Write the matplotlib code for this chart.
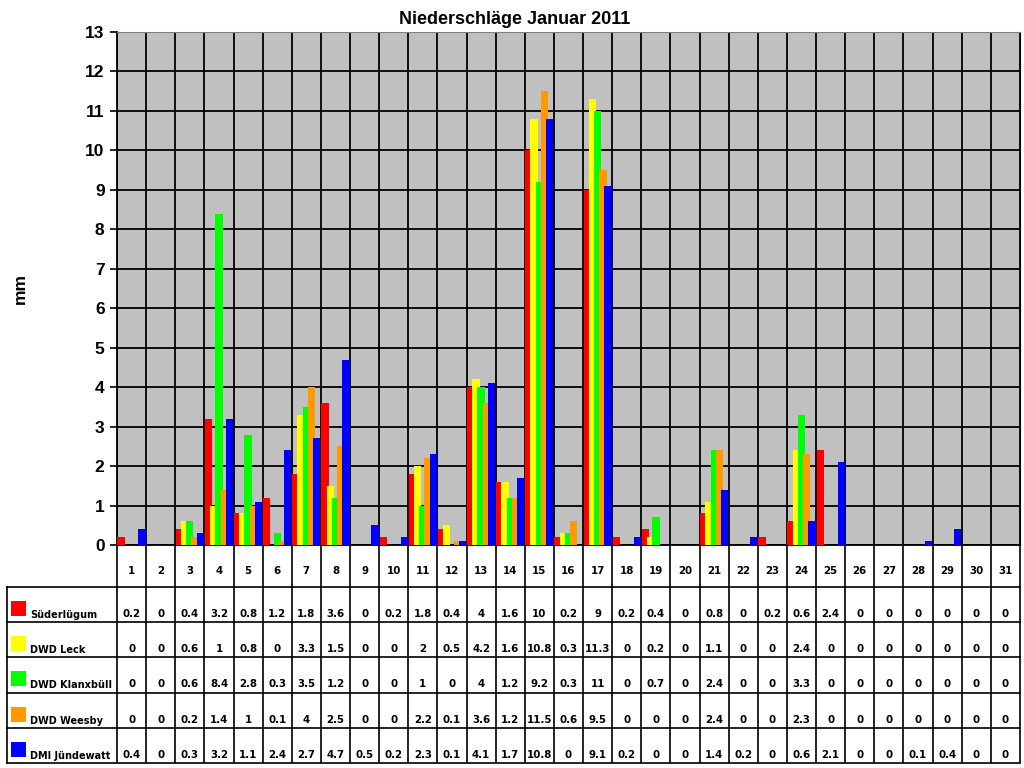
import matplotlib
matplotlib.use("Agg")
import matplotlib.pyplot as plt
import numpy as np

days = list(range(1, 32))
stations = ["Süderlügum", "DWD Leck", "DWD Klanxbüll", "DWD Weesby", "DMI Jündewatt"]
colors = ["#ff0000", "#ffff00", "#00ff00", "#ff9900", "#0000ff"]

suederluegum = [0.2, 0, 0.4, 3.2, 0.8, 1.2, 1.8, 3.6, 0, 0.2, 1.8, 0.4, 4, 1.6, 10, 0.2,
                9, 0.2, 0.4, 0, 0.8, 0, 0.2, 0.6, 2.4, 0, 0, 0, 0, 0, 0]
leck = [0, 0, 0.6, 1, 0.8, 0, 3.3, 1.5, 0, 0, 2, 0.5, 4.2, 1.6, 10.8, 0.3,
        11.3, 0, 0.2, 0, 1.1, 0, 0, 2.4, 0, 0, 0, 0, 0, 0, 0]
klanxbuell = [0, 0, 0.6, 8.4, 2.8, 0.3, 3.5, 1.2, 0, 0, 1, 0, 4, 1.2, 9.2, 0.3,
              11, 0, 0.7, 0, 2.4, 0, 0, 3.3, 0, 0, 0, 0, 0, 0, 0]
weesby = [0, 0, 0.2, 1.4, 1, 0.1, 4, 2.5, 0, 0, 2.2, 0.1, 3.6, 1.2, 11.5, 0.6,
          9.5, 0, 0, 0, 2.4, 0, 0, 2.3, 0, 0, 0, 0, 0, 0, 0]
juendewatt = [0.4, 0, 0.3, 3.2, 1.1, 2.4, 2.7, 4.7, 0.5, 0.2, 2.3, 0.1, 4.1, 1.7, 10.8, 0,
              9.1, 0.2, 0, 0, 1.4, 0.2, 0, 0.6, 2.1, 0, 0, 0.1, 0.4, 0, 0]
series = [suederluegum, leck, klanxbuell, weesby, juendewatt]

W, H = 1024, 768
L, R, T, B = 117, 1020, 32, 545

fig = plt.figure(figsize=(W / 100, H / 100), dpi=100)
ax = fig.add_axes([L / W, 1 - B / H, (R - L) / W, (B - T) / H])
ax.set_facecolor("#c0c0c0")

x = np.array(days)
offsets = [-0.36, -0.18, 0, 0.18, 0.36]
for vals, col, off in zip(series, colors, offsets):
    ax.bar(x + off, vals, width=0.25, color=col, zorder=3, linewidth=0)

ax.set_xlim(0.5, 31.5)
ax.set_ylim(0, 13)
ax.set_yticks(range(0, 14))
ax.set_xticks(np.arange(0.5, 32, 1))
ax.set_xticklabels([])
ax.tick_params(axis="x", length=0)
ax.tick_params(axis="y", length=5, width=1.2, direction="out", pad=4)
for lab in ax.get_yticklabels():
    lab.set_fontfamily("Liberation Sans")
    lab.set_fontweight("bold")
    lab.set_fontsize(12.5)
ax.grid(True, color="black", linewidth=1.3, zorder=1)
ax.set_axisbelow(True)
for s in ["left", "bottom"]:
    ax.spines[s].set_color("black")
    ax.spines[s].set_linewidth(1.3)
ax.spines["top"].set_color("#808080")
ax.spines["right"].set_color("black")

fig.text(515 / W, 1 - 20 / H, "Niederschläge Januar 2011", ha="center", va="center",
         fontsize=13, fontweight="bold", family="Liberation Sans")
fig.text(20 / W, 1 - 288 / H, "mm", ha="center", va="center", rotation=90,
         fontsize=12.5, fontweight="bold", family="Liberation Sans")

# table below the plot, in pixel coordinates
tab = fig.add_axes([0, 0, 1, 1])
tab.set_xlim(0, W)
tab.set_ylim(H, 0)
tab.axis("off")
tab.patch.set_alpha(0)

cw = (R - L) / len(days)
hdr_bot = 587
row_h = 35.2
n = len(stations)
tbl_bot = hdr_bot + n * row_h
lbl_left = 7
lw = 1.2
tfont = dict(family="DejaVu Sans", fontweight="bold", fontsize=7.4)
lfont = dict(family="DejaVu Sans", fontweight="bold", fontsize=7.0)

# vertical lines
for i in range(len(days) + 1):
    xx = L + i * cw
    tab.plot([xx, xx], [B, tbl_bot], color="black", lw=lw, solid_capstyle="butt")
tab.plot([lbl_left, lbl_left], [hdr_bot, tbl_bot], color="black", lw=lw)
# horizontal lines
tab.plot([lbl_left, R], [hdr_bot, hdr_bot], color="black", lw=lw)
for r in range(1, n + 1):
    yy = hdr_bot + r * row_h
    tab.plot([lbl_left, R], [yy, yy], color="black", lw=lw)

for i, d in enumerate(days):
    tab.text(L + (i + 0.5) * cw, 571, str(d), ha="center", va="center", **tfont)

for r, (name, col, vals) in enumerate(zip(stations, colors, series)):
    top = hdr_bot + r * row_h
    tab.add_patch(plt.Rectangle((11, top + 14), 15, 15, color=col, lw=0))
    tab.text(30, top + 28, name, ha="left", va="center", **lfont)
    for i, v in enumerate(vals):
        tab.text(L + (i + 0.5) * cw, top + 27, f"{v:g}", ha="center", va="center", **tfont)

fig.savefig("out.png", dpi=100)
